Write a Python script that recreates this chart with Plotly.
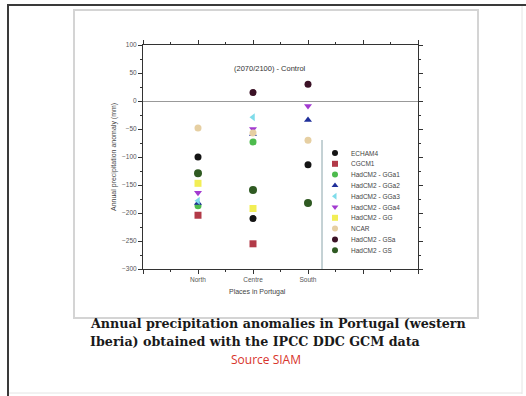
import plotly.graph_objects as go

W, H = 526, 396

regions = ["North", "Centre", "South"]
region_pos = [1, 2, 3]

models = ["ECHAM4", "CGCM1", "HadCM2 - GGa1", "HadCM2 - GGa2", "HadCM2 - GGa3",
          "HadCM2 - GGa4", "HadCM2 - GG", "NCAR", "HadCM2 - GSa", "HadCM2 - GS"]

echam4 = [-100, -210, -114]
cgcm1 = [-204, -255, None]
gga1 = [-187, -73, None]
gga2 = [-182, -59, -34]
gga3 = [-178, -29, None]
gga4 = [-164, -50, -9]
gg = [-147, -192, None]
ncar = [-48, -57, -70]
gsa = [None, 15, 30]
gs = [-129, -159, -182]

series = [echam4, cgcm1, gga1, gga2, gga3, gga4, gg, ncar, gsa, gs]
colors = ["#141414", "#b23a48", "#4dbb4d", "#1f2f9a", "#7fdcea",
          "#a23ad0", "#f2ee55", "#e6cfa2", "#3b1226", "#2f5a22"]
symbols = ["circle", "square", "circle", "triangle-up", "triangle-left",
           "triangle-down", "square", "circle", "circle", "circle"]
sizes = [7, 7, 7, 7, 7, 7, 7, 7, 7, 8]

yticks = [100, 50, 0, -50, -100, -150, -200, -250, -300]


def px(x):
    return x / W


def py(y):
    return 1 - y / H


fig = go.Figure()

for name, vals, c, s, sz in zip(models, series, colors, symbols, sizes):
    fig.add_trace(go.Scatter(
        x=region_pos, y=vals, mode="markers", name=name,
        marker=dict(color=c, symbol=s, size=sz, line=dict(width=0)),
        showlegend=False, cliponaxis=False))

# custom compact legend (overlay axes in pixel units)
leg_x = [335] * len(models)
leg_y = [153 + i * 10.8 for i in range(len(models))]
for i, (name, c, s) in enumerate(zip(models, colors, symbols)):
    fig.add_trace(go.Scatter(
        x=[leg_x[i]], y=[leg_y[i]], xaxis="x2", yaxis="y2", mode="markers",
        marker=dict(color=c, symbol=s, size=6, line=dict(width=0)),
        showlegend=False, hoverinfo="skip", cliponaxis=False))
    fig.add_annotation(x=px(349), y=py(leg_y[i]), xref="paper", yref="paper",
                       text=name, showarrow=False, xanchor="left", yanchor="middle",
                       font=dict(family="Arial, Liberation Sans", size=6.5, color="#444"))

axis_common = dict(showline=True, linecolor="#333", linewidth=1, mirror="ticks",
                   ticks="outside", ticklen=4, tickcolor="#333", showgrid=False,
                   tickfont=dict(family="Arial, Liberation Sans", size=6.5, color="#555"))

fig.update_layout(
    width=W, height=H, autosize=False,
    margin=dict(l=0, r=0, t=0, b=0),
    paper_bgcolor="white", plot_bgcolor="rgba(0,0,0,0)",
    showlegend=False,
    xaxis=dict(domain=[px(143), px(418)], range=[0, 5], tickvals=[0, 1, 2, 3, 4, 5],
               ticktext=["", "North", "Centre", "South", "", ""], zeroline=False,
               minor=dict(dtick=0.5, ticklen=2, ticks="outside", tickcolor="#333"),
               automargin=False, **axis_common),
    yaxis=dict(domain=[py(269), py(45)], range=[-300, 100], tickvals=yticks,
               zeroline=True, zerolinecolor="#999", zerolinewidth=1,
               minor=dict(dtick=25, ticklen=2, ticks="outside", tickcolor="#333"),
               automargin=False, **axis_common),
    xaxis2=dict(domain=[0, 1], range=[0, W], visible=False, anchor="y2"),
    yaxis2=dict(domain=[0, 1], range=[H, 0], visible=False, anchor="x2"),
)

# texts
fig.add_annotation(x=px(270), y=py(62), xref="paper", yref="paper",
                   text="(2070/2100) - Control", showarrow=False,
                   font=dict(family="Arial, Liberation Sans", size=7.5, color="#333"))
fig.add_annotation(x=px(108), y=py(157), xref="paper", yref="paper",
                   text="Annual precipitation anomaly (mm)", showarrow=False, textangle=-90,
                   font=dict(family="Arial, Liberation Sans", size=7, color="#444"))
fig.add_annotation(x=px(257), y=py(298), xref="paper", yref="paper",
                   text="Places in Portugal", showarrow=False,
                   font=dict(family="Arial, Liberation Sans", size=7, color="#444"))
fig.add_annotation(x=px(88), y=py(323), xref="paper", yref="paper",
                   text="<b>Annual precipitation anomalies in Portugal (western</b>",
                   showarrow=False, xanchor="left", yanchor="middle",
                   font=dict(family="DejaVu Serif", size=12.7, color="#1a1a1a"))
fig.add_annotation(x=px(88), y=py(341), xref="paper", yref="paper",
                   text="<b>Iberia) obtained with the IPCC DDC GCM data</b>",
                   showarrow=False, xanchor="left", yanchor="middle",
                   font=dict(family="DejaVu Serif", size=12.7, color="#1a1a1a"))
fig.add_annotation(x=px(266), y=py(370), xref="paper", yref="paper",
                   text="Source SIAM", showarrow=False,
                   font=dict(family="Open Sans, Arial", size=12, color="#d8342c"))

# frames
fig.add_shape(type="rect", xref="paper", yref="paper", x0=px(74), x1=px(478), y0=py(318), y1=py(10),
              line=dict(color="#d4d4d4", width=2), layer="below")
fig.add_shape(type="line", xref="paper", yref="paper", x0=px(8), x1=px(8), y0=py(5), y1=py(396),
              line=dict(color="#3a3a3a", width=2))
fig.add_shape(type="line", xref="paper", yref="paper", x0=px(7), x1=px(526), y0=py(5), y1=py(5),
              line=dict(color="#3a3a3a", width=2))
fig.add_shape(type="line", xref="paper", yref="paper", x0=px(522), x1=px(522), y0=py(6), y1=py(394),
              line=dict(color="#e4e4e4", width=1))
fig.add_shape(type="line", xref="paper", yref="paper", x0=px(9), x1=px(522), y0=py(393), y1=py(393),
              line=dict(color="#e4e4e4", width=1))
# legend box edge
fig.add_shape(type="line", xref="paper", yref="paper", x0=px(322), x1=px(322), y0=py(140), y1=py(269),
              line=dict(color="#8aa4aa", width=1))

fig.write_html("out.html")
